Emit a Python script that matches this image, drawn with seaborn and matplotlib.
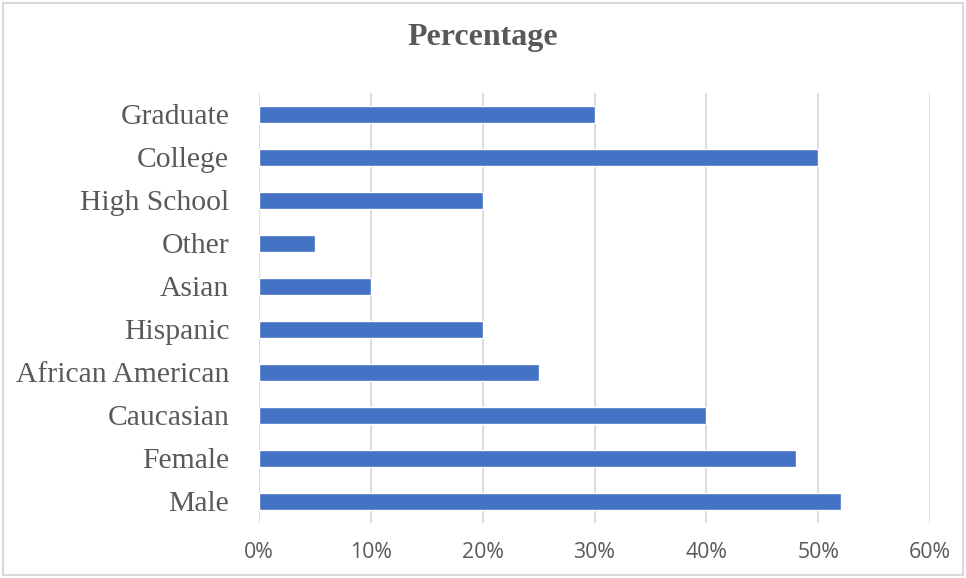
import matplotlib
matplotlib.use("Agg")
import matplotlib.pyplot as plt
import seaborn as sns
import pandas as pd
from matplotlib.patches import Rectangle
from matplotlib.ticker import PercentFormatter

categories = ["Graduate", "College", "High School", "Other", "Asian", "Hispanic",
              "African American", "Caucasian", "Female", "Male"]
values = [30, 50, 20, 5, 10, 20, 25, 40, 48, 52]
xticks = [0, 10, 20, 30, 40, 50, 60]

df = pd.DataFrame({"category": categories, "value": values})

sns.set_theme(style="white")
fig = plt.figure(figsize=(9.66, 5.78), dpi=100)
ax = fig.add_axes([259/966, 1 - 523/578, (930-259)/966, (523-93)/578])

sns.barplot(data=df, x="value", y="category", order=categories, color="#4472C4",
            width=0.38, saturation=1, ax=ax)

ax.set_xlim(0, 60)
ax.set_ylim(9.5, -0.5)
ax.set_xticks(xticks)
ax.xaxis.set_major_formatter(PercentFormatter(decimals=0))
ax.grid(axis="x", color="#d9d9d9", linewidth=1.3)
ax.set_axisbelow(True)
for s in ax.spines.values():
    s.set_visible(False)
ax.set_xlabel("")
ax.set_ylabel("")
ax.tick_params(axis="both", length=0)
ax.tick_params(axis="x", pad=14, labelsize=15.3, labelcolor="#595959")
ax.tick_params(axis="y", pad=21.5, labelsize=21.3, labelcolor="#595959")
for lab in ax.get_xticklabels():
    lab.set_family("Open Sans")
for lab in ax.get_yticklabels():
    lab.set_family("Liberation Serif")

fig.text(0.5, 1 - 37/578, "Percentage", ha="center", va="center",
         fontsize=23, fontweight="bold", family="Liberation Serif", color="#595959")

fig.patches.append(Rectangle((3/966, 3/578), 960/966, 572/578, transform=fig.transFigure,
                             fill=False, edgecolor="#d9d9d9", linewidth=1.5))

fig.savefig("out.png", dpi=100)
